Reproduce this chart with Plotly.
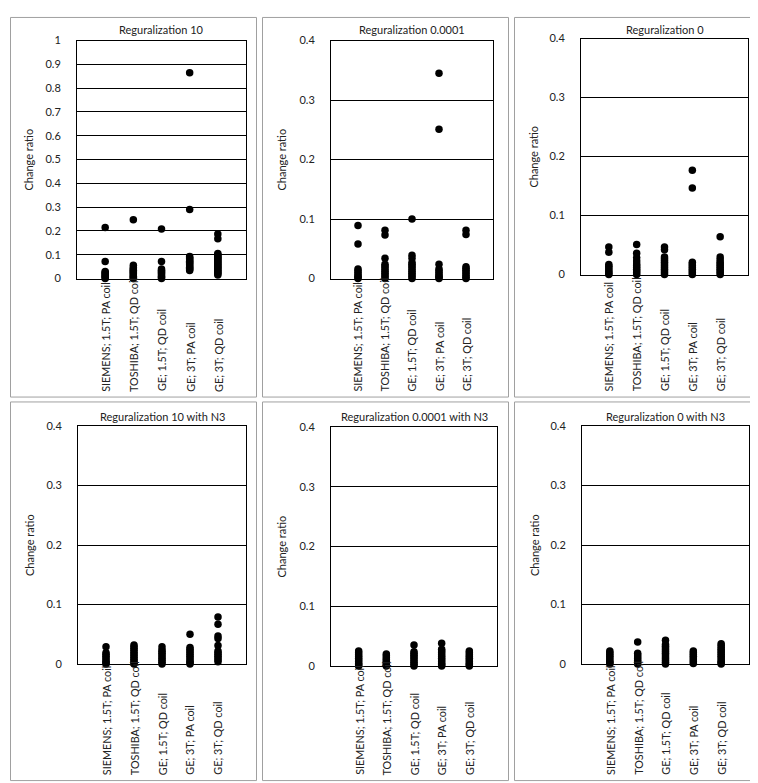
import plotly.graph_objects as go

W, H = 758, 783

categories = ["SIEMENS; 1.5T; PA coil", "TOSHIBA; 1.5T; QD coil", "GE; 1.5T; QD coil",
              "GE; 3T; PA coil", "GE; 3T; QD coil"]

titles = ["Reguralization 10", "Reguralization 0.0001", "Reguralization 0",
          "Reguralization 10 with N3", "Reguralization 0.0001 with N3", "Reguralization 0 with N3"]

y_title = "Change ratio"

# values per category (SIEMENS, TOSHIBA, GE 1.5T, GE 3T PA, GE 3T QD)
reg10 = [
    [0.215, 0.072, 0.03, 0.025, 0.02, 0.015, 0.01, 0.005, 0.0],
    [0.247, 0.056, 0.045, 0.04, 0.035, 0.03, 0.025, 0.02, 0.015, 0.01, 0.005, 0.0],
    [0.208, 0.072, 0.04, 0.035, 0.03, 0.025, 0.02, 0.015, 0.01, 0.005, 0.0],
    [0.865, 0.29, 0.093, 0.088, 0.083, 0.078, 0.073, 0.068, 0.063, 0.058, 0.053, 0.048, 0.043, 0.038, 0.034],
    [0.187, 0.167, 0.105, 0.1, 0.095, 0.09, 0.085, 0.08, 0.075, 0.07, 0.065, 0.06, 0.055, 0.05,
     0.045, 0.04, 0.035, 0.03, 0.025, 0.02, 0.015],
]
reg00001 = [
    [0.089, 0.058, 0.016, 0.013, 0.01, 0.007, 0.004, 0.002, 0.0],
    [0.081, 0.073, 0.034, 0.024, 0.021, 0.018, 0.015, 0.012, 0.009, 0.006, 0.003, 0.0],
    [0.1, 0.039, 0.034, 0.027, 0.024, 0.021, 0.018, 0.015, 0.012, 0.009, 0.006, 0.003, 0.0],
    [0.345, 0.251, 0.024, 0.016, 0.013, 0.01, 0.007, 0.004, 0.002, 0.0],
    [0.081, 0.074, 0.02, 0.017, 0.014, 0.011, 0.008, 0.005, 0.002, 0.0],
]
reg0 = [
    [0.047, 0.038, 0.017, 0.014, 0.011, 0.008, 0.005, 0.002, 0.0],
    [0.051, 0.036, 0.029, 0.023, 0.018, 0.015, 0.012, 0.009, 0.006, 0.003, 0.0],
    [0.047, 0.042, 0.03, 0.027, 0.024, 0.021, 0.018, 0.015, 0.012, 0.009, 0.006, 0.003, 0.0],
    [0.177, 0.147, 0.021, 0.018, 0.015, 0.012, 0.009, 0.006, 0.003, 0.0],
    [0.064, 0.03, 0.025, 0.021, 0.018, 0.015, 0.012, 0.009, 0.006, 0.003, 0.0],
]
reg10_n3 = [
    [0.029, 0.019, 0.016, 0.013, 0.01, 0.007, 0.004, 0.002, 0.0],
    [0.032, 0.029, 0.026, 0.023, 0.02, 0.017, 0.014, 0.011, 0.008, 0.005, 0.002, 0.0],
    [0.029, 0.024, 0.021, 0.018, 0.015, 0.012, 0.009, 0.006, 0.003, 0.0],
    [0.05, 0.028, 0.025, 0.022, 0.019, 0.016, 0.013, 0.01, 0.007, 0.004, 0.002, 0.0],
    [0.079, 0.067, 0.047, 0.043, 0.031, 0.022, 0.019, 0.016, 0.013, 0.01, 0.007, 0.004],
]
reg00001_n3 = [
    [0.025, 0.022, 0.019, 0.016, 0.013, 0.01, 0.007, 0.004, 0.002, 0.0],
    [0.02, 0.017, 0.014, 0.011, 0.008, 0.005, 0.002, 0.0, -0.002],
    [0.035, 0.024, 0.021, 0.018, 0.015, 0.012, 0.009, 0.006, 0.003, 0.0],
    [0.038, 0.028, 0.025, 0.022, 0.019, 0.016, 0.013, 0.01, 0.007, 0.004, 0.002, 0.0],
    [0.025, 0.022, 0.019, 0.016, 0.013, 0.01, 0.007, 0.004, 0.002, 0.0],
]
reg0_n3 = [
    [0.022, 0.019, 0.016, 0.013, 0.01, 0.007, 0.004, 0.002, 0.0],
    [0.037, 0.018, 0.015, 0.012, 0.009, 0.006, 0.003, 0.0],
    [0.04, 0.033, 0.03, 0.027, 0.024, 0.021, 0.018, 0.015, 0.012, 0.009, 0.006, 0.003, 0.0],
    [0.022, 0.019, 0.016, 0.013, 0.01, 0.007, 0.004, 0.001, -0.002],
    [0.034, 0.031, 0.028, 0.025, 0.022, 0.019, 0.016, 0.013, 0.01, 0.007, 0.004, 0.002, 0.0],
]

panels_data = [reg10, reg00001, reg0, reg10_n3, reg00001_n3, reg0_n3]
y_max = [1.0, 0.4, 0.4, 0.4, 0.4, 0.4]
y_step = [0.1, 0.1, 0.1, 0.1, 0.1, 0.1]

# layout (pixels): plot left, right, top, bottom
plot_px = [(69, 238, 26, 268), (323, 485, 26, 268), (573, 740, 24, 264),
           (70, 238, 418, 660), (323, 489, 419, 662), (574, 741, 418, 660)]
frame_px = [(2.5, 248.5, 2.5, 388.5), (254.5, 500.5, 2.5, 388.5), (506.5, 754.5, 2.5, 388.5),
            (2.5, 248.5, 393.5, 778.5), (254.5, 500.5, 393.5, 778.5), (506.5, 754.5, 393.5, 778.5)]
ytitle_px = [21, 274, 526, 21, 274, 526]
label_bottom_px = [384, 384, 384, 774, 774, 774]
title_px = [15, 15, 15, 408, 408, 408]

FONT = "Lato"
FS = 11
LFS = 10.8

fig = go.Figure()
annotations = []
shapes = []

for i, data in enumerate(panels_data):
    n = i + 1
    xa = "x" if n == 1 else f"x{n}"
    ya = "y" if n == 1 else f"y{n}"
    l, r, t, b = plot_px[i]
    xs, ys = [], []
    for c, vals in zip(categories, data):
        xs += [c] * len(vals)
        ys += vals
    fig.add_trace(go.Scatter(x=xs, y=ys, mode="markers", xaxis=xa, yaxis=ya,
                             marker=dict(color="black", size=7.5), cliponaxis=False,
                             showlegend=False, hoverinfo="x+y"))
    ax_key = "xaxis" if n == 1 else f"xaxis{n}"
    ay_key = "yaxis" if n == 1 else f"yaxis{n}"
    fig.update_layout(**{
        ax_key: dict(domain=[l / W, r / W], anchor=ya, type="category",
                     categoryorder="array", categoryarray=categories,
                     range=[-1, len(categories)], showticklabels=False, showgrid=False,
                     showline=True, linecolor="black", linewidth=1, mirror=True,
                     zeroline=False, ticks=""),
        ay_key: dict(domain=[1 - b / H, 1 - t / H], anchor=xa,
                     range=[0, y_max[i]], dtick=y_step[i], tick0=0,
                     showgrid=True, gridcolor="black", gridwidth=1,
                     showline=True, linecolor="black", linewidth=1, mirror=True,
                     zeroline=False, ticks="outside", ticklen=13,
                     tickcolor="rgba(0,0,0,0)",
                     tickfont=dict(family=FONT, size=FS, color="#222")),
    })
    # panel title
    annotations.append(dict(text=titles[i], xref="paper", yref="paper",
                            x=(l + r) / 2 / W, y=1 - title_px[i] / H,
                            xanchor="center", yanchor="middle", showarrow=False,
                            font=dict(family=FONT, size=FS, color="#222")))
    # y axis title
    annotations.append(dict(text=y_title, xref="paper", yref="paper",
                            x=ytitle_px[i] / W, y=1 - (t + b) / 2 / H, textangle=-90,
                            xanchor="center", yanchor="middle", showarrow=False,
                            font=dict(family=FONT, size=FS, color="#222")))
    # category labels, rotated, bottom-aligned
    for c in categories:
        annotations.append(dict(text=c, xref=xa, yref="paper", x=c,
                                y=1 - label_bottom_px[i] / H, textangle=-90,
                                xanchor="center", yanchor="bottom", showarrow=False,
                                borderpad=0,
                                font=dict(family=FONT, size=LFS, color="#222")))
    fl, fr, ft, fb = frame_px[i]
    shapes.append(dict(type="rect", xref="paper", yref="paper",
                       x0=fl / W, x1=fr / W, y0=1 - fb / H, y1=1 - ft / H,
                       line=dict(color="#a0a0a0", width=1), layer="below"))

fig.update_layout(width=W, height=H, margin=dict(l=0, r=0, t=0, b=0),
                  paper_bgcolor="white", plot_bgcolor="white",
                  annotations=annotations, shapes=shapes,
                  font=dict(family=FONT, size=FS, color="#222"))

fig.write_html("out.html")
